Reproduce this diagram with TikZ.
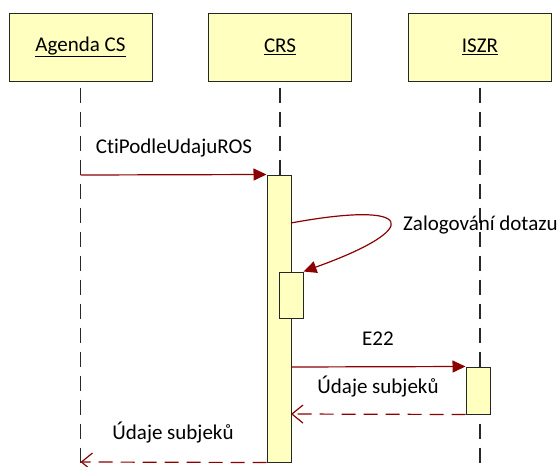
\documentclass[tikz,border=0pt]{standalone}
\usepackage{fontspec}
\setmainfont{Carlito}[Ligatures=NoCommon]
\usetikzlibrary{arrows.meta}
\definecolor{boxfill}{RGB}{255,255,192}
\definecolor{msgred}{RGB}{139,0,0}
\definecolor{lifegray}{RGB}{40,40,40}
\begin{document}
\begin{tikzpicture}[x=1pt,y=-1pt,
  objbox/.style={draw=black!85,fill=boxfill,line width=1pt,minimum width=143pt,minimum height=68pt,inner sep=0pt,font=\fontsize{21}{24}\selectfont},
  actbar/.style={draw=black!85,fill=boxfill,line width=1pt,minimum width=24pt,inner sep=0pt},
  lifeline/.style={draw=lifegray,line width=1.1pt,dash pattern=on 15pt off 9pt,dash phase=18pt},
  callmsg/.style={draw=msgred,line width=1.2pt,-{Triangle[length=13pt,width=12pt]}},
  retmsg/.style={draw=msgred,line width=1.2pt,dash pattern=on 14pt off 8pt,-{Straight Barb[length=11pt,width=18pt,line width=1.2pt]}},
  msglabel/.style={font=\fontsize{21}{24}\selectfont,inner sep=0pt}]
\useasboundingbox (0,0) rectangle (559,466);
% objects
\node[objbox] (ag) at (80.5,47) {\underline{Agenda CS}};
\node[objbox] (crs) at (280,47) {\underline{CRS}};
\node[objbox] (is) at (480,47) {\underline{ISZR}};
% lifeline ends
\coordinate (agend) at (80.5,466);
\coordinate (crsend) at (280,466);
\coordinate (isend) at (480,466);
\draw[lifeline] (ag.south) -- (agend);
\draw[lifeline] (crs.south) -- (crsend);
\draw[lifeline] (is.south) -- (isend);
% activation bars
\node[actbar,minimum height=287pt] (crsbar) at (279,318.5) {};
\node[actbar,minimum height=46pt] (nest) at (291,295) {};
\node[actbar,minimum height=47pt] (isbar) at (478,390.5) {};
% message endpoints
\coordinate (m1s) at (80.5,175);
\coordinate (m2s) at (291,223);
\coordinate (m3s) at (291,367);
\coordinate (m4e) at (291,414);
\coordinate (m5e) at (80.5,462);
% messages
\draw[callmsg] (m1s) -- (crsbar.north west);
\draw[callmsg] (m2s) .. controls (415,200) and (425,228) .. (nest.north east);
\draw[callmsg] (m3s) -- (isbar.north west);
\draw[retmsg] (isbar.south west) -- (m4e);
\draw[retmsg] (crsbar.south west) -- (m5e);
% labels
\node[msglabel] (l1) at (174,148) {CtiPodleUdajuROS};
\node[msglabel,anchor=west] (l2) at (403,225) {Zalogování dotazu};
\node[msglabel] (l3) at (378,339) {E22};
\node[msglabel] (l4) at (378,387) {Údaje subjeků};
\node[msglabel] (l5) at (173,433) {Údaje subjeků};
\end{tikzpicture}
\end{document}
